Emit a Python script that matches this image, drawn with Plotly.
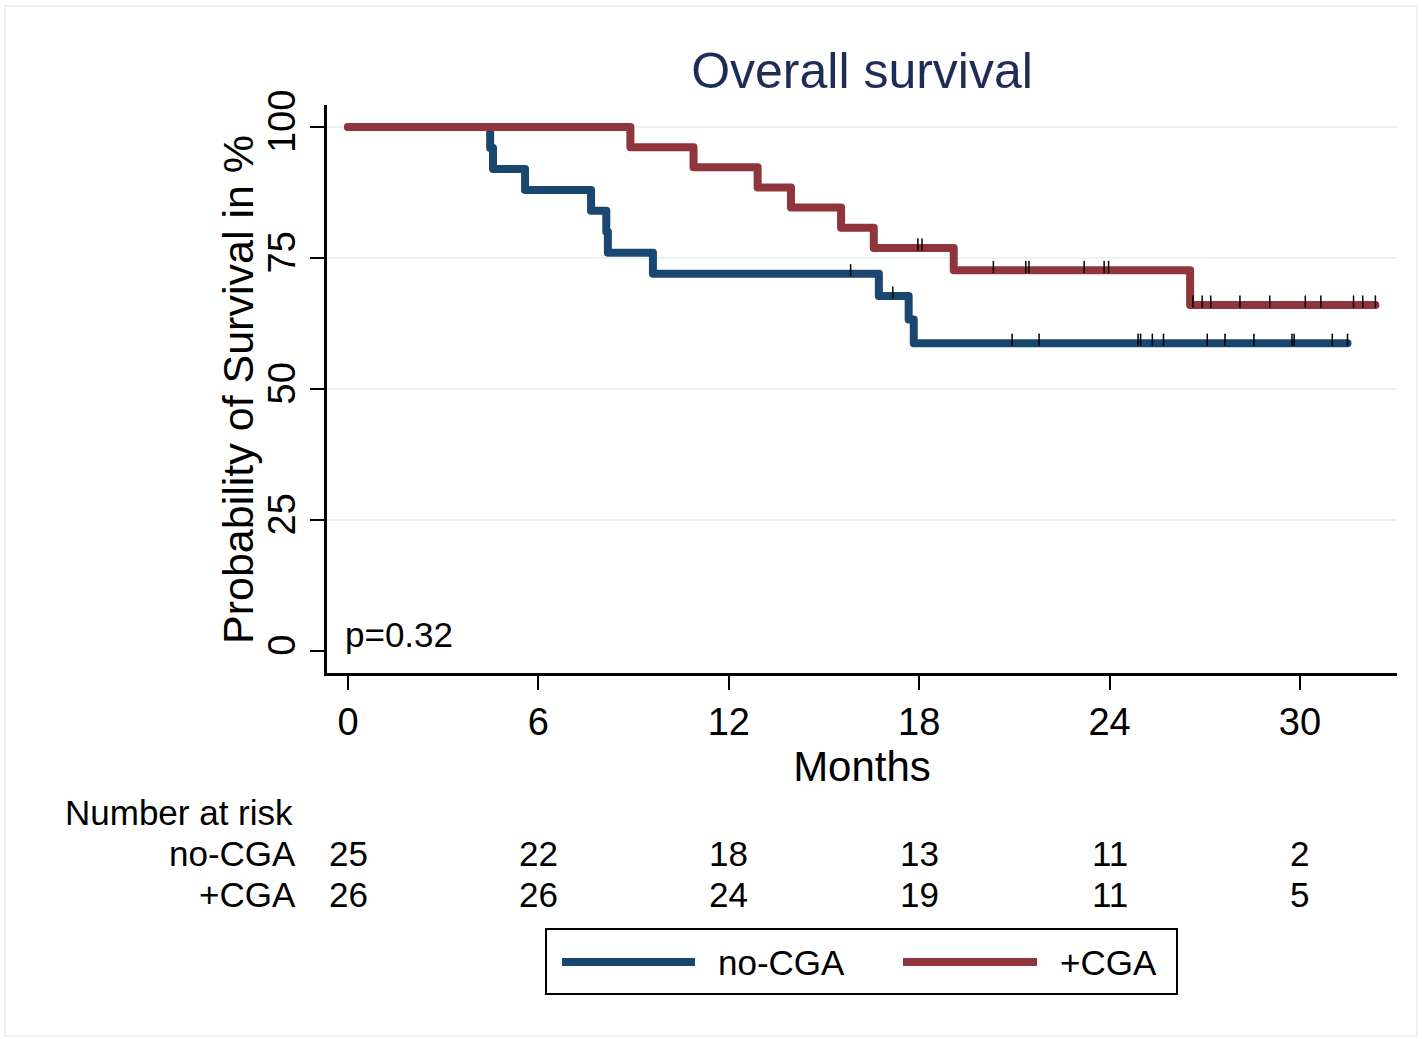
import plotly.graph_objects as go

# ---- data ----
month_ticks = [0, 6, 12, 18, 24, 30]
pct_ticks = [0, 25, 50, 75, 100]
grid_vals = [25, 50, 75, 100]

groups = ["no-CGA", "+CGA"]
nocga_events = [4.48, 4.57, 5.58, 7.66, 8.14, 8.19, 9.61, 16.73, 17.67, 17.83]
nocga_censored = [15.84, 17.17, 20.93, 21.78, 24.90, 24.98, 25.35, 25.70, 27.08,
                  27.64, 28.55, 29.75, 29.82, 31.02, 31.50]
cga_events = [8.90, 10.89, 12.91, 13.96, 15.54, 16.57, 19.09, 26.54]
cga_censored = [17.96, 18.09, 20.34, 21.36, 21.46, 23.20, 23.83, 23.97, 26.63,
                26.92, 27.19, 28.11, 29.05, 30.17, 30.66, 31.69, 31.98, 32.38]

risk_nocga = [25, 22, 18, 13, 11, 2]
risk_cga = [26, 26, 24, 19, 11, 5]
p_value_text = "p=0.32"

BLUE = "#1a476f"
RED = "#90353b"
GRID = "#eaf2f3"
FONT = "Liberation Sans, Arial, Helvetica, sans-serif"


def kaplan_meier(events, censored):
    data = sorted([(t, 1) for t in events] + [(t, 0) for t in censored])
    at_risk = len(data)
    s = 100.0
    xs, ys, cx, cy = [0.0], [100.0], [], []
    for t, d in data:
        if d:
            s = s * (at_risk - 1) / at_risk
            xs.append(t)
            ys.append(s)
        else:
            cx.append(t)
            cy.append(s)
        at_risk -= 1
    xs.append(data[-1][0])
    ys.append(s)
    return xs, ys, cx, cy


fig = go.Figure()

curves = [
    (groups[0], nocga_events, nocga_censored, BLUE),
    (groups[1], cga_events, cga_censored, RED),
]
tick_sets = []
for name, ev, ce, col in curves:
    xs, ys, cx, cy = kaplan_meier(ev, ce)
    fig.add_trace(go.Scatter(x=xs, y=ys, mode="lines", name=name,
                             line=dict(color=col, width=8, shape="hv"),
                             showlegend=False, hoverinfo="skip"))
    tick_sets.append((name, cx, cy))

for name, cx, cy in tick_sets:
    tx, ty = [], []
    for c, s in zip(cx, cy):
        tx += [c, c, None]
        ty += [s - 0.4, s + 1.7, None]
    fig.add_trace(go.Scatter(x=tx, y=ty, mode="lines", name=name + " censored",
                             line=dict(color="black", width=1.5),
                             showlegend=False, hoverinfo="skip"))

# plot-area geometry (px) -> paper helpers
L, R, T, B = 327, 1397, 105, 673
W, H = 1422, 1039


def px_x(px):
    return (px - L) / (R - L)


def px_y(py):
    return (B - py) / (B - T)


shapes = []
for g in grid_vals:
    shapes.append(dict(type="line", xref="paper", yref="y", x0=0, x1=1, y0=g, y1=g,
                       line=dict(color=GRID, width=2), layer="below"))
# outer light frame
shapes.append(dict(type="rect", xref="paper", yref="paper",
                   x0=px_x(5), x1=px_x(1417), y0=px_y(1036), y1=px_y(6),
                   line=dict(color=GRID, width=2), layer="below"))
# manual legend
shapes.append(dict(type="rect", xref="paper", yref="paper",
                   x0=px_x(546), x1=px_x(1177), y0=px_y(994), y1=px_y(929),
                   line=dict(color="black", width=2)))
shapes.append(dict(type="line", xref="paper", yref="paper",
                   x0=px_x(562), x1=px_x(695), y0=px_y(962), y1=px_y(962),
                   line=dict(color=BLUE, width=8)))
shapes.append(dict(type="line", xref="paper", yref="paper",
                   x0=px_x(903), x1=px_x(1037), y0=px_y(962), y1=px_y(962),
                   line=dict(color=RED, width=8)))

ann = []
ann.append(dict(text="Probability of Survival in %", xref="paper", yref="paper",
                x=px_x(238), y=px_y(390), textangle=-90,
                xanchor="center", yanchor="middle", showarrow=False,
                font=dict(size=43, color="black", family=FONT)))
ann.append(dict(text=p_value_text, xref="paper", yref="paper", x=px_x(343), y=px_y(634),
                xanchor="left", yanchor="middle", showarrow=False,
                font=dict(size=35, color="black", family=FONT)))
ann.append(dict(text="Number at risk", xref="paper", yref="paper", x=px_x(63), y=px_y(813),
                xanchor="left", yanchor="middle", showarrow=False,
                font=dict(size=35, color="black", family=FONT)))
for lab, vals, py in [(groups[0], risk_nocga, 853), (groups[1], risk_cga, 894)]:
    ann.append(dict(text=lab, xref="paper", yref="paper", x=px_x(298), y=px_y(py),
                    xanchor="right", yanchor="middle", showarrow=False,
                    font=dict(size=35, color="black", family=FONT)))
    for m, v in zip(month_ticks, vals):
        ann.append(dict(text=str(v), xref="x", yref="paper", x=m, y=px_y(py),
                        xanchor="center", yanchor="middle", showarrow=False,
                        font=dict(size=35, color="black", family=FONT)))
ann.append(dict(text=groups[0], xref="paper", yref="paper", x=px_x(716), y=px_y(962),
                xanchor="left", yanchor="middle", showarrow=False,
                font=dict(size=35, color="black", family=FONT)))
ann.append(dict(text=groups[1], xref="paper", yref="paper", x=px_x(1058), y=px_y(962),
                xanchor="left", yanchor="middle", showarrow=False,
                font=dict(size=35, color="black", family=FONT)))

fig.update_layout(
    width=W, height=H,
    margin=dict(l=L, r=W - R, t=T, b=H - B, pad=0),
    paper_bgcolor="white", plot_bgcolor="white",
    font=dict(family=FONT, color="black"),
    title=dict(text="Overall survival", x=0.5, xref="paper", y=1 - 70 / H,
               yref="container", xanchor="center", yanchor="middle",
               font=dict(size=50, color="#1e2d55", family=FONT)),
    xaxis=dict(range=[-0.662, 33.06], tickvals=month_ticks, ticktext=[str(m) for m in month_ticks],
               ticks="outside", ticklen=14, tickwidth=1.5, tickcolor="black",
               showline=True, linewidth=2.5, linecolor="black", mirror=False,
               showgrid=False, zeroline=False,
               tickfont=dict(size=38, color="black", family=FONT),
               title=dict(text="Months", standoff=0, font=dict(size=42, color="black", family=FONT))),
    yaxis=dict(range=[-4.2, 104.2], tickvals=pct_ticks, ticktext=[str(p) for p in pct_ticks],
               tickangle=-90,
               ticks="outside", ticklen=14, tickwidth=1.5, tickcolor="black",
               showline=True, linewidth=2.5, linecolor="black",
               showgrid=False, zeroline=False,
               tickfont=dict(size=38, color="black", family=FONT)),
    shapes=shapes,
    annotations=ann,
)

post = (
    "document.body.style.margin='0';"
    "document.querySelectorAll('.scatterlayer .js-line').forEach(function(p){"
    "p.style.strokeLinecap='round';p.style.strokeLinejoin='round';});"
)
fig.write_html("out.html", config={"displayModeBar": False}, post_script=post)
